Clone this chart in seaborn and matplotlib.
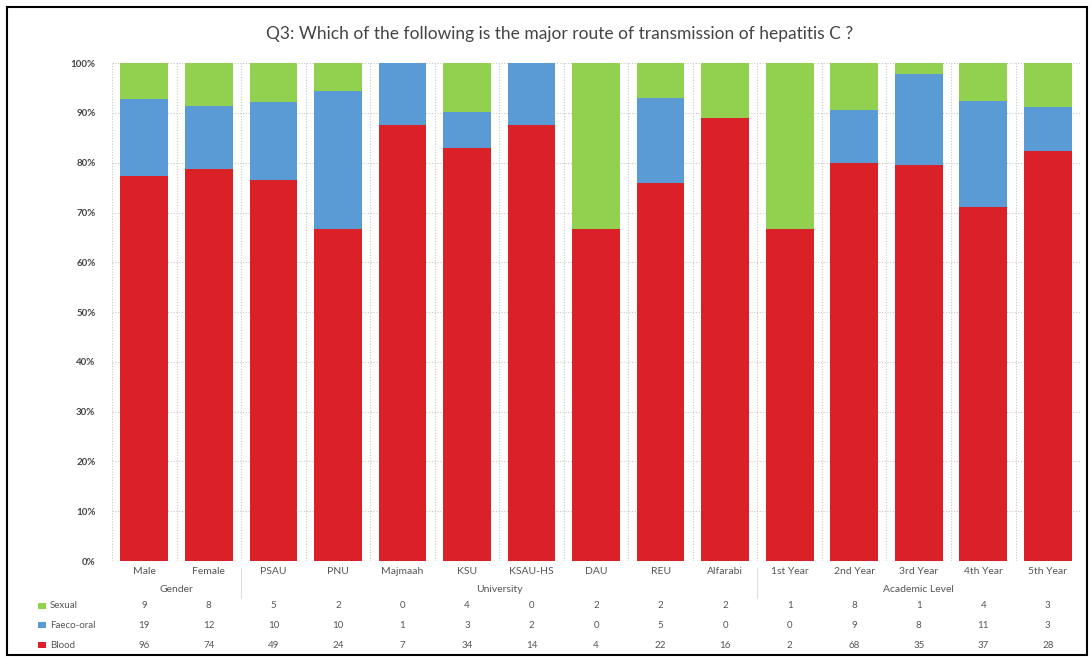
import numpy as np
import pandas as pd
import matplotlib
matplotlib.use("Agg")
import matplotlib.pyplot as plt
import matplotlib.transforms as mtransforms
from matplotlib.patches import Rectangle
import seaborn as sns

# Datos
categories = ["Male", "Female", "PSAU", "PNU", "Majmaah", "KSU", "KSAU-HS", "DAU", "REU",
              "Alfarabi", "1st Year", "2nd Year", "3rd Year", "4th Year", "5th Year"]
groups = [("Gender", 0, 1), ("University", 2, 9), ("Academic Level", 10, 14)]
sexual = [9, 8, 5, 2, 0, 4, 0, 2, 2, 2, 1, 8, 1, 4, 3]
faeco_oral = [19, 12, 10, 10, 1, 3, 2, 0, 5, 0, 0, 9, 8, 11, 3]
blood = [96, 74, 49, 24, 7, 34, 14, 4, 22, 16, 2, 68, 35, 37, 28]

df = pd.DataFrame({"cat": categories, "Sexual": sexual, "Faeco-oral": faeco_oral, "Blood": blood})
total = df["Sexual"] + df["Faeco-oral"] + df["Blood"]
df["p_blood"] = df["Blood"] / total * 100
df["p_fo"] = (df["Blood"] + df["Faeco-oral"]) / total * 100
df["p_all"] = 100.0

c_red = "#DA2127"
c_blue = "#5B9BD5"
c_green = "#92D050"

sns.set_style("white")
plt.rcParams['font.family'] = ['Lato', 'DejaVu Sans']

fig = plt.figure(figsize=(10.91, 6.58), dpi=100)
ax = fig.add_axes([0.1027, 0.1474, 0.8873, 0.7566])

# Barras apiladas (se dibujan de mayor a menor)
for col, color in [("p_all", c_green), ("p_fo", c_blue), ("p_blood", c_red)]:
    sns.barplot(data=df, x="cat", y=col, color=color, width=0.74, saturation=1,
                ax=ax, zorder=3, linewidth=0)

ax.set_ylim(0, 100)
ax.set_xlim(-0.5, len(categories) - 0.5)
ax.set_yticks(np.arange(0, 101, 10))
ax.set_yticklabels([f"{v}%" for v in range(0, 101, 10)], fontsize=7, color="#444444",
                   fontweight="bold")
ax.set_xticks(range(len(categories)))
ax.set_xticklabels(categories, fontsize=7.5, color="#555555")
ax.tick_params(axis="y", length=0, pad=12)
ax.tick_params(axis="x", length=0, pad=4)
ax.set_xlabel("")
ax.set_ylabel("")
for s in ax.spines.values():
    s.set_visible(False)

# Rejilla punteada
ax.grid(axis="y", linestyle=(0, (1, 1.5)), color="#c8c8c8", linewidth=0.8, zorder=0)
for xb in np.arange(-0.5, len(categories) + 0.5, 1):
    ax.axvline(xb, linestyle=(0, (1, 1.5)), color="#c8c8c8", linewidth=0.8, zorder=0)

# Título
fig.text(0.513, 0.949, "Q3: Which of the following is the major route of transmission of hepatitis C ?",
         ha="center", va="center", fontsize=12.5, color="#444444")

# Tabla de datos
trans = mtransforms.blended_transform_factory(ax.transData, fig.transFigure)
for name, a, b in groups:
    ax.text((a + b) / 2, 1 - 590 / 658, name, transform=trans, ha="center", va="center",
            fontsize=7.5, color="#555555")
for xs in [1.5, 9.5]:
    ax.plot([xs, xs], [1 - 598 / 658, 1 - 568 / 658], transform=trans, color="#dddddd",
            linewidth=0.8, clip_on=False)

rows = [("Sexual", sexual, c_green, 606), ("Faeco-oral", faeco_oral, c_blue, 625),
        ("Blood", blood, c_red, 645)]
for label, vals, color, ypx in rows:
    yf = 1 - ypx / 658
    fig.patches.append(Rectangle((38 / 1091, yf - 0.005), 8 / 1091, 0.01, transform=fig.transFigure,
                                 facecolor=color, edgecolor="none"))
    fig.text(50 / 1091, yf, label, ha="left", va="center", fontsize=7, color="#555555")
    for i, v in enumerate(vals):
        ax.text(i, yf, str(v), transform=trans, ha="center", va="center", fontsize=7, color="#555555")

# Marco
fig.patches.append(Rectangle((0.006, 0.004), 0.99, 0.985, transform=fig.transFigure,
                             facecolor="none", edgecolor="black", linewidth=1.5))

fig.savefig("out.png", dpi=100)
